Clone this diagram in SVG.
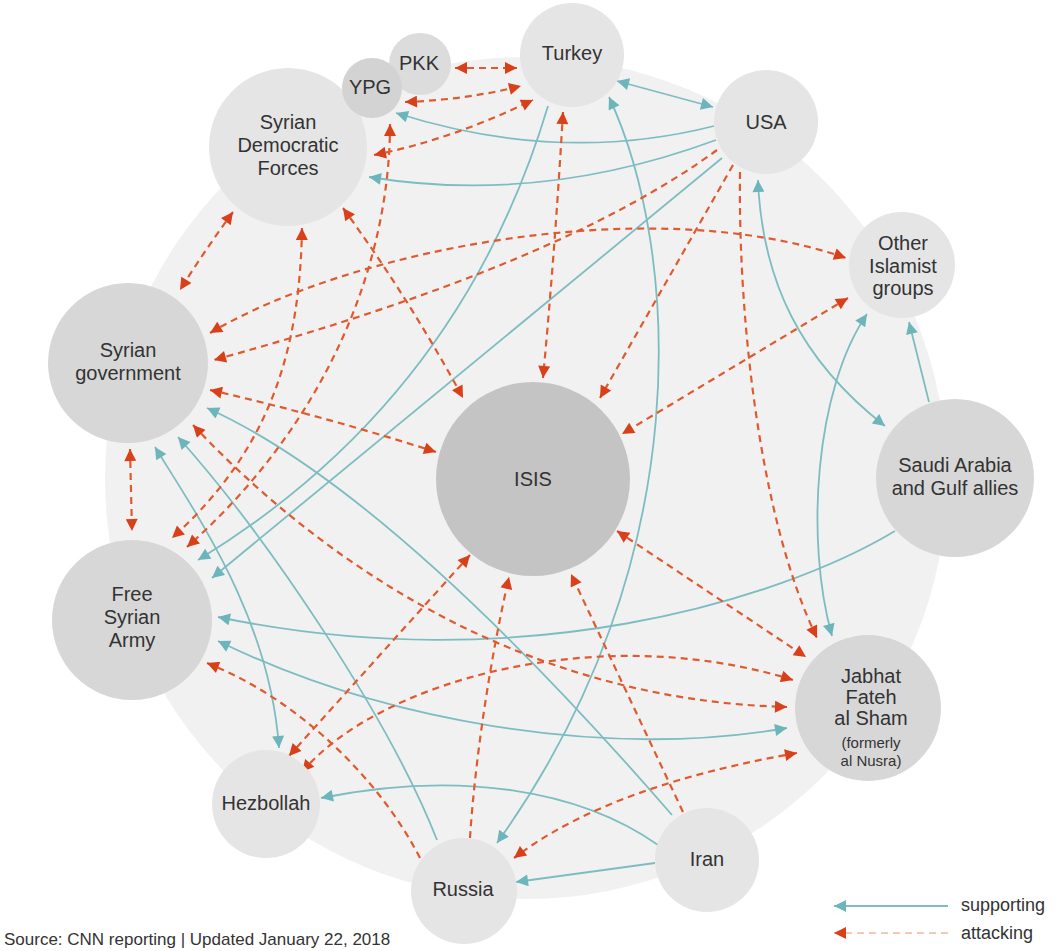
<svg xmlns="http://www.w3.org/2000/svg" width="1057" height="951" viewBox="0 0 1057 951">
<style>
.bg{fill:#f1f1f1}
.n{fill:#e5e5e5}
.d{fill:#d7d7d7}
.t{font-family:"Liberation Sans",Arial,sans-serif;font-size:20px;fill:#333;text-anchor:middle}
.s{font-size:15px}
.sup{fill:none;stroke:#7dbdc2;stroke-width:1.8;marker-end:url(#ta)}
.sup2{marker-start:url(#ta)}
.att{fill:none;stroke:#e05a30;stroke-width:2.2;stroke-dasharray:7 5;marker-end:url(#ra)}
.att2{marker-start:url(#ra)}
.lg{font-family:"Liberation Sans",Arial,sans-serif;font-size:18px;fill:#333}
</style>
<defs>
<marker id="ta" viewBox="0 0 10 10" refX="10" refY="5" markerUnits="userSpaceOnUse" markerWidth="14" markerHeight="12" orient="auto-start-reverse"><path d="M0,0L10,5L0,10z" fill="#6cb5bb"/></marker>
<marker id="ra" viewBox="0 0 10 10" refX="10" refY="5" markerUnits="userSpaceOnUse" markerWidth="14" markerHeight="12" orient="auto-start-reverse"><path d="M0,0L10,5L0,10z" fill="#d8401a"/></marker>
</defs>
<rect width="1057" height="951" fill="#fff"/>
<circle class="bg" cx="526" cy="478" r="421"/>
<g id="connectors">
<!-- supporting -->
<path class="sup sup2" d="M617,81 L713,107"/>
<path class="sup" d="M714,126 Q560,165 396,113"/>
<path class="sup" d="M716,140 Q540,205 369,177"/>
<path class="sup" d="M548,106 Q460,400 198,560"/>
<path class="sup" d="M722,158 Q467,368 212,578"/>
<path class="sup sup2" d="M758,180 C762,280 800,360 885,426"/>
<path class="sup" d="M929,402 L909,322"/>
<path class="sup sup2" d="M867,314 C815,390 805,540 832,636"/>
<path class="sup" d="M895,531 C780,600 520,680 218,617"/>
<path class="sup sup2" d="M218,641 C380,720 600,760 787,728"/>
<path class="sup" d="M658,845 C580,790 460,770 321,798"/>
<path class="sup" d="M655,863 L516,882"/>
<path class="sup" d="M672,815 Q390,490 207,408"/>
<path class="sup" d="M437,840 C390,720 270,540 178,437"/>
<path class="sup sup2" d="M155,447 C200,520 270,620 279,748"/>
<path class="sup sup2" d="M609,97 C680,250 700,560 497,843"/>
<!-- attacking -->
<path class="att att2" d="M455,68 L517,68"/>
<path class="att att2" d="M405,102 Q465,100 521,86"/>
<path class="att att2" d="M374,155 Q450,140 533,100"/>
<path class="att att2" d="M390,124 C390,260 330,420 187,547"/>
<path class="att att2" d="M302,228 C300,350 270,450 172,538"/>
<path class="att att2" d="M233,212 Q205,250 180,290"/>
<path class="att att2" d="M563,112 Q555,250 543,378"/>
<path class="att att2" d="M343,208 Q410,300 463,398"/>
<path class="att" d="M733,165 L600,398"/>
<path class="att" d="M717,150 Q560,265 214,360"/>
<path class="att att2" d="M210,333 C350,250 650,190 846,258"/>
<path class="att att2" d="M210,390 Q320,415 436,452"/>
<path class="att att2" d="M193,425 C320,560 520,700 787,707"/>
<path class="att att2" d="M130,449 L132,531"/>
<path class="att att2" d="M848,298 L622,434"/>
<path class="att" d="M740,172 C738,320 760,520 817,638"/>
<path class="att att2" d="M617,531 L806,657"/>
<path class="att att2" d="M470,555 L289,756"/>
<path class="att att2" d="M302,772 C380,680 600,620 793,680"/>
<path class="att" d="M420,858 C380,780 300,700 207,663"/>
<path class="att" d="M470,838 C475,760 490,660 509,577"/>
<path class="att" d="M683,812 L571,574"/>
<path class="att att2" d="M797,753 C700,770 590,800 514,858"/>
</g>
<g id="sdf"><circle class="n" cx="288" cy="147" r="79"/><text class="t" x="288" y="129">Syrian</text><text class="t" x="288" y="152">Democratic</text><text class="t" x="288" y="175">Forces</text></g>
<g id="pkk"><circle cx="420" cy="64" r="31" fill="#dcdcdc"/><text class="t" x="419" y="70">PKK</text></g>
<g id="ypg"><circle cx="372" cy="88" r="30" fill="#d3d3d3"/><text class="t" x="370" y="94">YPG</text></g>
<g id="turkey"><circle class="n" cx="572" cy="55" r="52"/><text class="t" x="572" y="60">Turkey</text></g>
<g id="usa"><circle class="n" cx="766" cy="122" r="52"/><text class="t" x="766" y="129">USA</text></g>
<g id="other"><circle class="n" cx="902" cy="265" r="53"/><text class="t" x="903" y="250">Other</text><text class="t" x="903" y="273">Islamist</text><text class="t" x="903" y="295">groups</text></g>
<g id="syrgov"><circle class="d" cx="128" cy="363" r="80"/><text class="t" x="128" y="357">Syrian</text><text class="t" x="128" y="380">government</text></g>
<g id="isis"><circle cx="533" cy="479" r="97" fill="#c4c4c4"/><text class="t" x="533" y="486">ISIS</text></g>
<g id="saudi"><circle class="d" cx="955" cy="478" r="79"/><text class="t" x="955" y="472">Saudi Arabia</text><text class="t" x="955" y="495">and Gulf allies</text></g>
<g id="fsa"><circle class="d" cx="132" cy="620" r="80"/><text class="t" x="132" y="601">Free</text><text class="t" x="132" y="624">Syrian</text><text class="t" x="132" y="647">Army</text></g>
<g id="jabhat"><circle class="d" cx="868" cy="708" r="73"/><text class="t" x="871" y="683">Jabhat</text><text class="t" x="871" y="704">Fateh</text><text class="t" x="871" y="725">al Sham</text><text class="t s" x="871" y="748">(formerly</text><text class="t s" x="871" y="766">al Nusra)</text></g>
<g id="hezbollah"><circle class="n" cx="266" cy="804" r="54"/><text class="t" x="266" y="810">Hezbollah</text></g>
<g id="russia"><circle class="n" cx="464" cy="891" r="53"/><text class="t" x="463" y="896">Russia</text></g>
<g id="iran"><circle class="n" cx="707" cy="860" r="52"/><text class="t" x="707" y="866">Iran</text></g>
<g id="legend">
<line x1="948" y1="906" x2="834" y2="906" stroke="#7dbdc2" stroke-width="1.8" marker-end="url(#ta)"/>
<line x1="948" y1="933" x2="834" y2="933" stroke="#f2b8a2" stroke-width="1.6" stroke-dasharray="7 5" marker-end="url(#ra)"/>
<text class="lg" x="961" y="911">supporting</text>
<text class="lg" x="961" y="939">attacking</text>
</g>
<text x="4" y="945" font-family="Liberation Sans, Arial, sans-serif" font-size="17" fill="#333">Source: CNN reporting | Updated January 22, 2018</text>
</svg>
